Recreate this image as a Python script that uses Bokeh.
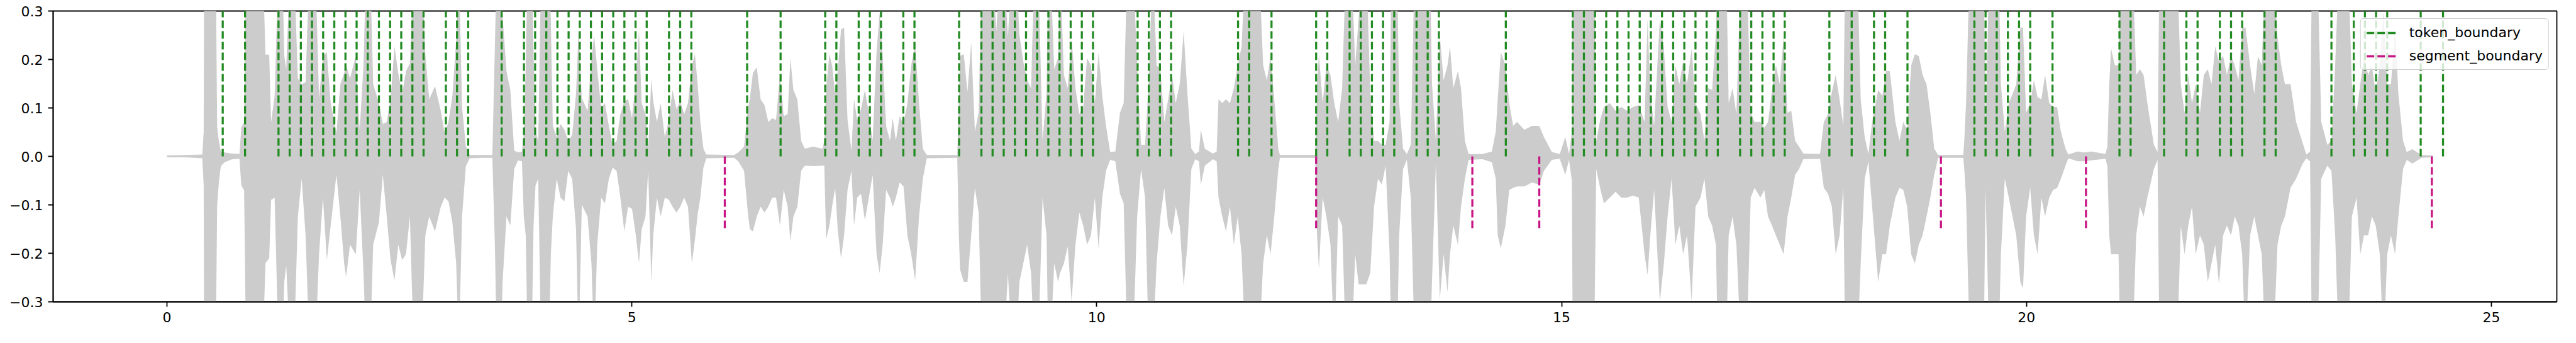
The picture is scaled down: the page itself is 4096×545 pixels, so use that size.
from bokeh.plotting import figure
from bokeh.models import Range1d, FixedTicker, Legend, LegendItem, CustomJSTickFormatter
from bokeh.embed import file_html
from bokeh.resources import INLINE

# ---------------- data ----------------
token_boundaries = [
    0.60, 0.84, 1.20, 1.32, 1.44, 1.56, 1.68, 1.80, 1.92, 2.04, 2.16, 2.28, 2.40, 2.52, 2.64, 2.76,
    3.00, 3.12, 3.24, 3.60, 3.84, 3.96, 4.08, 4.20, 4.32, 4.44, 4.56, 4.68, 4.80, 4.92, 5.04, 5.16,
    5.40, 5.52, 5.64, 6.24, 6.60, 7.08, 7.20, 7.44, 7.56, 7.68, 7.92, 8.04, 8.52, 8.76, 8.88, 9.00,
    9.12, 9.24, 9.36, 9.48, 9.60, 9.72, 9.84, 9.96, 10.44, 10.56, 10.68, 10.80, 11.52, 11.64, 11.88,
    12.36, 12.48, 12.72, 12.84, 12.96, 13.08, 13.20, 13.44, 13.56, 13.68, 14.40, 15.12, 15.24, 15.36,
    15.48, 15.60, 15.72, 15.84, 15.96, 16.08, 16.20, 16.32, 16.44, 16.56, 16.68, 16.92, 17.04, 17.16,
    17.28, 17.40, 17.88, 18.12, 18.36, 18.48, 18.72, 19.44, 19.56, 19.68, 19.80, 19.92, 20.04, 20.28,
    21.00, 21.12, 21.48, 21.72, 21.84, 22.08, 22.20, 22.32, 22.56, 22.68, 23.28, 23.52, 23.64, 23.76,
    23.88, 24.24, 24.48,
]
segment_boundaries = [6.00, 12.36, 14.04, 14.76, 19.08, 20.64, 24.36]
token_line_top = 0.3
segment_line_bottom = -0.15

# waveform envelope (time in s, upper and lower amplitude); values beyond +-0.3 are clipped by the axes
env_t = [
    0.00, 0.20, 0.38, 0.395, 0.40, 0.525, 0.54, 0.56, 0.58, 0.62,
    0.70, 0.78, 0.80, 0.83, 0.85, 1.03, 1.06, 1.10, 1.12, 1.158,
    1.20, 1.24, 1.262, 1.283, 1.325, 1.366, 1.408, 1.449, 1.491, 1.533,
    1.595, 1.636, 1.678, 1.72, 1.761, 1.823, 1.865, 1.906, 1.927, 1.969,
    2.031, 2.073, 2.114, 2.143, 2.185, 2.218, 2.28, 2.322, 2.364, 2.405,
    2.447, 2.488, 2.53, 2.571, 2.613, 2.654, 2.737, 2.779, 2.821, 2.883,
    2.945, 2.987, 3.028, 3.07, 3.111, 3.14, 3.174, 3.215, 3.257, 3.40,
    3.50, 3.527, 3.548, 3.59, 3.61, 3.652, 3.693, 3.735, 3.776, 3.818,
    3.838, 3.859, 3.88, 3.922, 3.943, 3.964, 3.993, 4.025, 4.108, 4.129,
    4.15, 4.192, 4.233, 4.275, 4.316, 4.358, 4.40, 4.428, 4.462, 4.524,
    4.566, 4.595, 4.628, 4.67, 4.711, 4.753, 4.794, 4.836, 4.877, 4.919,
    4.96, 5.002, 5.043, 5.077, 5.106, 5.147, 5.176, 5.21, 5.23, 5.27,
    5.31, 5.355, 5.397, 5.438, 5.48, 5.521, 5.563, 5.604, 5.646, 5.679,
    5.708, 5.737, 5.77, 5.80, 6.10, 6.145, 6.207, 6.25, 6.27, 6.302,
    6.344, 6.385, 6.427, 6.468, 6.51, 6.551, 6.593, 6.634, 6.676, 6.705,
    6.738, 6.78, 6.821, 6.86, 6.95, 7.05, 7.07, 7.09, 7.125, 7.154,
    7.187, 7.216, 7.25, 7.283, 7.32, 7.362, 7.39, 7.424, 7.465, 7.507,
    7.549, 7.59, 7.632, 7.665, 7.698, 7.735, 7.777, 7.806, 7.84, 7.88,
    7.922, 7.964, 8.005, 8.047, 8.089, 8.13, 8.172, 8.50, 8.517, 8.53,
    8.57, 8.61, 8.65, 8.69, 8.73, 8.765, 8.88, 8.92, 8.96, 9.00,
    9.045, 9.09, 9.13, 9.169, 9.21, 9.252, 9.294, 9.33, 9.37, 9.418,
    9.46, 9.48, 9.50, 9.543, 9.585, 9.605, 9.647, 9.688, 9.73, 9.771,
    9.813, 9.855, 9.896, 9.938, 9.98, 10.02, 10.06, 10.10, 10.145, 10.20,
    10.25, 10.29, 10.33, 10.39, 10.435, 10.477, 10.52, 10.56, 10.602, 10.644,
    10.685, 10.727, 10.768, 10.81, 10.85, 10.893, 10.935, 10.976, 11.018, 11.06,
    11.10, 11.12, 11.163, 11.25, 11.29, 11.31, 11.35, 11.39, 11.433, 11.475,
    11.517, 11.558, 11.60, 11.745, 11.79, 11.83, 11.87, 11.91, 11.953, 11.97,
    12.35, 12.37, 12.39, 12.43, 12.47, 12.514, 12.555, 12.597, 12.64, 12.68,
    12.74, 12.78, 12.817, 12.86, 12.90, 12.942, 12.983, 13.025, 13.066, 13.108,
    13.15, 13.17, 13.23, 13.253, 13.295, 13.336, 13.378, 13.42, 13.585, 13.606,
    13.648, 13.69, 13.731, 13.773, 13.80, 13.835, 13.885, 13.918, 13.96, 14.00,
    14.15, 14.25, 14.292, 14.313, 14.346, 14.396, 14.437, 14.479, 14.52, 14.60,
    14.68, 14.76, 14.81, 14.895, 14.98, 15.04, 15.08, 15.11, 15.12, 15.35,
    15.373, 15.414, 15.455, 15.518, 15.58, 15.642, 15.705, 15.767, 15.83, 15.892,
    15.925, 15.954, 15.995, 16.057, 16.10, 16.14, 16.183, 16.224, 16.266, 16.307,
    16.349, 16.399, 16.44, 16.494, 16.536, 16.577, 16.619, 16.66, 16.68, 16.77,
    16.797, 16.839, 16.88, 16.93, 16.99, 17.034, 17.076, 17.138, 17.18, 17.22,
    17.263, 17.305, 17.346, 17.388, 17.43, 17.47, 17.512, 17.554, 17.60, 17.78,
    17.82, 17.865, 17.907, 17.948, 17.99, 18.03, 18.05, 18.18, 18.217, 18.26,
    18.30, 18.34, 18.405, 18.45, 18.49, 18.53, 18.59, 18.634, 18.675, 18.717,
    18.76, 18.80, 18.842, 18.883, 18.925, 18.966, 19.008, 19.05, 19.32, 19.331,
    19.35, 19.39, 19.54, 19.56, 19.60, 19.70, 19.725, 19.767, 19.81, 19.85,
    19.89, 19.934, 19.963, 19.996, 20.04, 20.08, 20.12, 20.16, 20.20, 20.245,
    20.287, 20.33, 20.37, 20.42, 20.45, 20.55, 20.62, 20.70, 20.85, 20.87,
    20.89, 20.91, 20.95, 20.99, 21.01, 21.14, 21.18, 21.22, 21.26, 21.30,
    21.37, 21.41, 21.43, 21.62, 21.66, 21.70, 21.74, 21.78, 21.82, 21.866,
    21.907, 21.95, 21.99, 22.03, 22.07, 22.115, 22.156, 22.20, 22.24, 22.28,
    22.32, 22.356, 22.405, 22.45, 22.49, 22.53, 22.57, 22.655, 22.70, 22.74,
    22.78, 22.84, 22.90, 22.97, 23.01, 23.05, 23.07, 23.13, 23.17, 23.236,
    23.28, 23.32, 23.36, 23.46, 23.50, 23.55, 23.59, 23.63, 23.675, 23.715,
    23.756, 23.80, 23.84, 23.88, 23.92, 23.964, 24.00, 24.05, 24.09, 24.15,
    24.19, 24.25, 24.37,
]
env_top = [
    0.002, 0.003, 0.004, 0.05, 0.4, 0.4, 0.06, 0.03, 0.01, 0.008,
    0.006, 0.005, 0.06, 0.07, 0.4, 0.4, 0.21, 0.21, 0.07, 0.125,
    0.4, 0.4, 0.207, 0.18, 0.4, 0.4, 0.161, 0.149, 0.153, 0.4,
    0.4, 0.12, 0.207, 0.215, 0.11, 0.048, 0.149, 0.172, 0.188, 0.161,
    0.207, 0.055, 0.188, 0.4, 0.4, 0.149, 0.11, 0.067, 0.071, 0.118,
    0.227, 0.172, 0.129, 0.176, 0.192, 0.4, 0.4, 0.211, 0.118, 0.145,
    0.094, 0.048, 0.071, 0.125, 0.242, 0.4, 0.102, 0.02, 0.003, 0.003,
    0.003, 0.227, 0.4, 0.4, 0.29, 0.176, 0.137, 0.012, 0.008, 0.01,
    0.044, 0.188, 0.4, 0.4, 0.219, 0.051, 0.032, 0.4, 0.4, 0.28,
    0.063, 0.04, 0.067, 0.055, 0.032, 0.044, 0.13, 0.266, 0.12, 0.094,
    0.20, 0.25, 0.18, 0.10, 0.11, 0.063, 0.024, 0.032, 0.087, 0.114,
    0.118, 0.079, 0.157, 0.26, 0.11, 0.087, 0.02, 0.16, 0.114, 0.071,
    0.11, 0.04, 0.075, 0.137, 0.098, 0.114, 0.087, 0.11, 0.188, 0.211,
    0.149, 0.071, 0.016, 0.004, 0.003, 0.008, 0.02, 0.10, 0.12, 0.172,
    0.184, 0.118, 0.106, 0.071, 0.079, 0.075, 0.168, 0.083, 0.087, 0.203,
    0.137, 0.118, 0.032, 0.016, 0.02, 0.016, 0.032, 0.141, 0.211, 0.188,
    0.129, 0.18, 0.262, 0.266, 0.075, 0.012, 0.118, 0.075, 0.098, 0.137,
    0.09, 0.032, 0.215, 0.297, 0.207, 0.063, 0.032, 0.079, 0.032, 0.083,
    0.067, 0.11, 0.188, 0.231, 0.11, 0.016, 0.003, 0.003, 0.11, 0.207,
    0.211, 0.133, 0.235, 0.051, 0.09, 0.4, 0.4, 0.258, 0.4, 0.4,
    0.246, 0.4, 0.4, 0.25, 0.196, 0.157, 0.141, 0.4, 0.4, 0.032,
    0.133, 0.4, 0.4, 0.18, 0.203, 0.4, 0.168, 0.141, 0.242, 0.141,
    0.087, 0.102, 0.203, 0.188, 0.11, 0.215, 0.125, 0.063, 0.009, 0.01,
    0.09, 0.11, 0.4, 0.4, 0.188, 0.024, 0.024, 0.157, 0.4, 0.188,
    0.18, 0.071, 0.118, 0.168, 0.11, 0.149, 0.258, 0.129, 0.016, 0.005,
    0.01, 0.055, 0.016, 0.006, 0.01, 0.118, 0.11, 0.118, 0.11, 0.141,
    0.188, 0.227, 0.4, 0.4, 0.188, 0.157, 0.207, 0.118, 0.016, 0.003,
    0.003, 0.149, 0.211, 0.11, 0.188, 0.168, 0.11, 0.071, 0.141, 0.4,
    0.4, 0.188, 0.285, 0.4, 0.4, 0.133, 0.032, 0.032, 0.024, 0.024,
    0.071, 0.4, 0.4, 0.11, 0.016, 0.005, 0.024, 0.4, 0.4, 0.149,
    0.032, 0.25, 0.157, 0.188, 0.227, 0.141, 0.176, 0.141, 0.032, 0.005,
    0.005, 0.01, 0.051, 0.118, 0.215, 0.188, 0.11, 0.063, 0.071, 0.055,
    0.063, 0.063, 0.04, 0.009, 0.005, 0.04, 0.005, 0.05, 0.4, 0.4,
    0.032, 0.075, 0.102, 0.11, 0.094, 0.102, 0.094, 0.102, 0.106, 0.071,
    0.285, 0.129, 0.063, 0.285, 0.223, 0.102, 0.071, 0.188, 0.149, 0.196,
    0.149, 0.223, 0.11, 0.087, 0.032, 0.141, 0.137, 0.258, 0.4, 0.4,
    0.11, 0.141, 0.087, 0.4, 0.4, 0.09, 0.071, 0.071, 0.059, 0.071,
    0.137, 0.188, 0.149, 0.246, 0.09, 0.094, 0.032, 0.02, 0.006, 0.005,
    0.071, 0.087, 0.133, 0.168, 0.118, 0.063, 0.4, 0.4, 0.118, 0.04,
    0.005, 0.071, 0.137, 0.125, 0.176, 0.176, 0.071, 0.032, 0.071, 0.055,
    0.188, 0.211, 0.207, 0.168, 0.149, 0.09, 0.016, 0.003, 0.003, 0.032,
    0.11, 0.4, 0.4, 0.051, 0.4, 0.4, 0.149, 0.051, 0.11, 0.129,
    0.149, 0.266, 0.266, 0.09, 0.11, 0.157, 0.122, 0.118, 0.168, 0.11,
    0.102, 0.102, 0.051, 0.016, 0.004, 0.01, 0.008, 0.01, 0.005, 0.02,
    0.149, 0.223, 0.188, 0.188, 0.4, 0.4, 0.168, 0.18, 0.168, 0.11,
    0.024, 0.009, 0.4, 0.4, 0.149, 0.09, 0.168, 0.11, 0.149, 0.09,
    0.168, 0.18, 0.149, 0.227, 0.196, 0.207, 0.168, 0.207, 0.188, 0.157,
    0.266, 0.266, 0.188, 0.129, 0.207, 0.188, 0.4, 0.4, 0.246, 0.188,
    0.149, 0.149, 0.071, 0.028, 0.004, 0.01, 0.4, 0.4, 0.071, 0.024,
    0.032, 0.188, 0.4, 0.4, 0.149, 0.09, 0.149, 0.207, 0.168, 0.188,
    0.129, 0.188, 0.297, 0.149, 0.149, 0.266, 0.129, 0.032, 0.009, 0.015,
    0.01, 0.003, 0.002,
]
env_bot = [
    -0.002, -0.002, -0.004, -0.06, -0.4, -0.4, -0.10, -0.05, -0.02, -0.012,
    -0.006, -0.005, -0.06, -0.07, -0.4, -0.4, -0.22, -0.21, -0.09, -0.085,
    -0.4, -0.4, -0.259, -0.225, -0.4, -0.4, -0.124, -0.046, -0.163, -0.4,
    -0.4, -0.202, -0.085, -0.214, -0.143, -0.038, -0.124, -0.221, -0.249, -0.182,
    -0.202, -0.069, -0.241, -0.4, -0.4, -0.182, -0.136, -0.038, -0.124, -0.214,
    -0.256, -0.182, -0.214, -0.202, -0.124, -0.4, -0.4, -0.163, -0.124, -0.155,
    -0.104, -0.085, -0.093, -0.136, -0.221, -0.4, -0.124, -0.02, -0.004, -0.003,
    -0.003, -0.182, -0.4, -0.4, -0.259, -0.124, -0.143, -0.026, -0.008, -0.01,
    -0.124, -0.163, -0.4, -0.4, -0.143, -0.06, -0.046, -0.4, -0.4, -0.202,
    -0.124, -0.046, -0.085, -0.093, -0.03, -0.046, -0.15, -0.4, -0.10, -0.124,
    -0.221, -0.4, -0.182, -0.085, -0.097, -0.046, -0.023, -0.03, -0.085, -0.155,
    -0.104, -0.108, -0.163, -0.22, -0.15, -0.124, -0.03, -0.26, -0.163, -0.085,
    -0.124, -0.085, -0.089, -0.104, -0.116, -0.104, -0.085, -0.104, -0.221, -0.171,
    -0.12, -0.085, -0.023, -0.004, -0.003, -0.01, -0.03, -0.12, -0.15, -0.155,
    -0.124, -0.104, -0.116, -0.104, -0.085, -0.085, -0.143, -0.069, -0.104, -0.175,
    -0.124, -0.104, -0.03, -0.019, -0.02, -0.019, -0.019, -0.171, -0.143, -0.104,
    -0.065, -0.155, -0.21, -0.163, -0.069, -0.03, -0.143, -0.085, -0.077, -0.132,
    -0.085, -0.038, -0.202, -0.241, -0.182, -0.069, -0.085, -0.104, -0.085, -0.054,
    -0.062, -0.163, -0.202, -0.256, -0.124, -0.046, -0.004, -0.003, -0.163, -0.233,
    -0.259, -0.259, -0.163, -0.065, -0.116, -0.4, -0.4, -0.3, -0.4, -0.4,
    -0.241, -0.4, -0.4, -0.259, -0.221, -0.182, -0.241, -0.4, -0.4, -0.085,
    -0.163, -0.4, -0.4, -0.221, -0.259, -0.241, -0.221, -0.186, -0.3, -0.182,
    -0.116, -0.143, -0.182, -0.163, -0.085, -0.19, -0.085, -0.03, -0.007, -0.01,
    -0.077, -0.097, -0.4, -0.4, -0.124, -0.026, -0.085, -0.4, -0.4, -0.221,
    -0.124, -0.065, -0.143, -0.163, -0.104, -0.143, -0.268, -0.182, -0.026, -0.006,
    -0.01, -0.058, -0.019, -0.006, -0.01, -0.085, -0.124, -0.155, -0.104, -0.182,
    -0.124, -0.202, -0.4, -0.4, -0.221, -0.163, -0.202, -0.124, -0.026, -0.003,
    -0.003, -0.163, -0.233, -0.085, -0.124, -0.182, -0.4, -0.124, -0.143, -0.4,
    -0.4, -0.202, -0.264, -0.264, -0.264, -0.241, -0.104, -0.046, -0.058, -0.019,
    -0.202, -0.4, -0.4, -0.163, -0.026, -0.007, -0.085, -0.4, -0.4, -0.259,
    -0.015, -0.296, -0.202, -0.28, -0.202, -0.143, -0.182, -0.104, -0.046, -0.007,
    -0.006, -0.012, -0.046, -0.163, -0.19, -0.143, -0.069, -0.065, -0.062, -0.062,
    -0.054, -0.058, -0.03, -0.007, -0.005, -0.038, -0.007, -0.05, -0.4, -0.4,
    -0.026, -0.065, -0.097, -0.085, -0.073, -0.085, -0.085, -0.081, -0.085, -0.202,
    -0.245, -0.163, -0.069, -0.3, -0.221, -0.124, -0.046, -0.182, -0.143, -0.202,
    -0.163, -0.3, -0.104, -0.085, -0.046, -0.124, -0.143, -0.182, -0.4, -0.4,
    -0.163, -0.124, -0.182, -0.4, -0.4, -0.085, -0.065, -0.085, -0.069, -0.124,
    -0.143, -0.163, -0.182, -0.202, -0.124, -0.085, -0.038, -0.026, -0.006, -0.005,
    -0.065, -0.077, -0.104, -0.202, -0.163, -0.065, -0.4, -0.4, -0.221, -0.046,
    -0.011, -0.104, -0.259, -0.202, -0.202, -0.143, -0.085, -0.065, -0.069, -0.104,
    -0.202, -0.221, -0.182, -0.163, -0.124, -0.085, -0.038, -0.003, -0.003, -0.026,
    -0.085, -0.4, -0.4, -0.065, -0.4, -0.4, -0.202, -0.046, -0.085, -0.124,
    -0.163, -0.259, -0.272, -0.124, -0.065, -0.163, -0.202, -0.085, -0.124, -0.085,
    -0.069, -0.065, -0.046, -0.019, -0.004, -0.01, -0.01, -0.008, -0.005, -0.02,
    -0.163, -0.202, -0.202, -0.202, -0.4, -0.4, -0.163, -0.104, -0.124, -0.085,
    -0.026, -0.007, -0.4, -0.4, -0.143, -0.202, -0.143, -0.104, -0.202, -0.163,
    -0.182, -0.259, -0.221, -0.182, -0.264, -0.163, -0.143, -0.163, -0.124, -0.143,
    -0.202, -0.4, -0.163, -0.124, -0.163, -0.202, -0.4, -0.4, -0.182, -0.143,
    -0.124, -0.065, -0.046, -0.015, -0.004, -0.01, -0.4, -0.4, -0.046, -0.019,
    -0.03, -0.163, -0.4, -0.4, -0.124, -0.085, -0.202, -0.163, -0.163, -0.124,
    -0.143, -0.202, -0.4, -0.202, -0.163, -0.202, -0.124, -0.026, -0.007, -0.015,
    -0.01, -0.003, -0.002,
]

x_ticks = [0, 5, 10, 15, 20, 25]
y_ticks = [-0.3, -0.2, -0.1, 0.0, 0.1, 0.2, 0.3]

assert len(env_t) == len(env_top) == len(env_bot), (len(env_t), len(env_top), len(env_bot))

# ---------------- figure ----------------
data_max = max(token_boundaries)
pad = 0.05 * data_max
FONT = "DejaVu Sans"

p = figure(width=4080, height=529, output_backend="svg", toolbar_location=None,
           x_range=Range1d(0 - pad, data_max + pad), y_range=Range1d(-0.3, 0.3),
           min_border_left=84, min_border_right=15, min_border_top=17, min_border_bottom=50)
p.background_fill_color = "white"
p.border_fill_color = "white"
p.xgrid.visible = False
p.ygrid.visible = False
p.outline_line_color = "black"
p.outline_line_width = 1.8

p.varea(x=env_t, y1=env_bot, y2=env_top, fill_color="#cccccc", fill_alpha=1.0)

tok = p.segment(x0=token_boundaries, y0=0, x1=token_boundaries, y1=token_line_top,
                line_color="#228b22", line_width=3.3, line_dash="12 5")
seg = p.segment(x0=segment_boundaries, y0=0, x1=segment_boundaries, y1=segment_line_bottom,
                line_color="#c71585", line_width=3.3, line_dash="12 5")

for ax in (p.xaxis[0], p.yaxis[0]):
    ax.axis_line_color = "black"
    ax.axis_line_width = 1.8
    ax.major_tick_line_color = "black"
    ax.major_tick_line_width = 1.8
    ax.major_tick_out = 8
    ax.major_tick_in = 0
    ax.minor_tick_line_color = None
    ax.major_label_text_font = FONT
    ax.major_label_text_font_size = "22px"
    ax.major_label_text_color = "black"
    ax.major_label_standoff = 8

p.xaxis.ticker = FixedTicker(ticks=x_ticks)
p.yaxis.ticker = FixedTicker(ticks=y_ticks)
p.yaxis.formatter = CustomJSTickFormatter(
    code='return (tick < -1e-9 ? "\\u2212" : "") + Math.abs(tick).toFixed(1);')

legend = Legend(items=[LegendItem(label="token_boundary", renderers=[tok]),
                       LegendItem(label="segment_boundary", renderers=[seg])],
                location="top_right", margin=12, padding=9, spacing=12,
                glyph_width=49, glyph_height=24, label_height=24, label_standoff=19,
                label_text_font=FONT, label_text_font_size="22px", label_text_color="black",
                border_line_color="#cccccc", border_line_width=1.8, border_line_alpha=1.0,
                background_fill_color="white", background_fill_alpha=0.8)
if "border_radius" in Legend.properties():
    legend.border_radius = 5
p.add_layout(legend)

open("out.html", "w").write(file_html(p, INLINE))
